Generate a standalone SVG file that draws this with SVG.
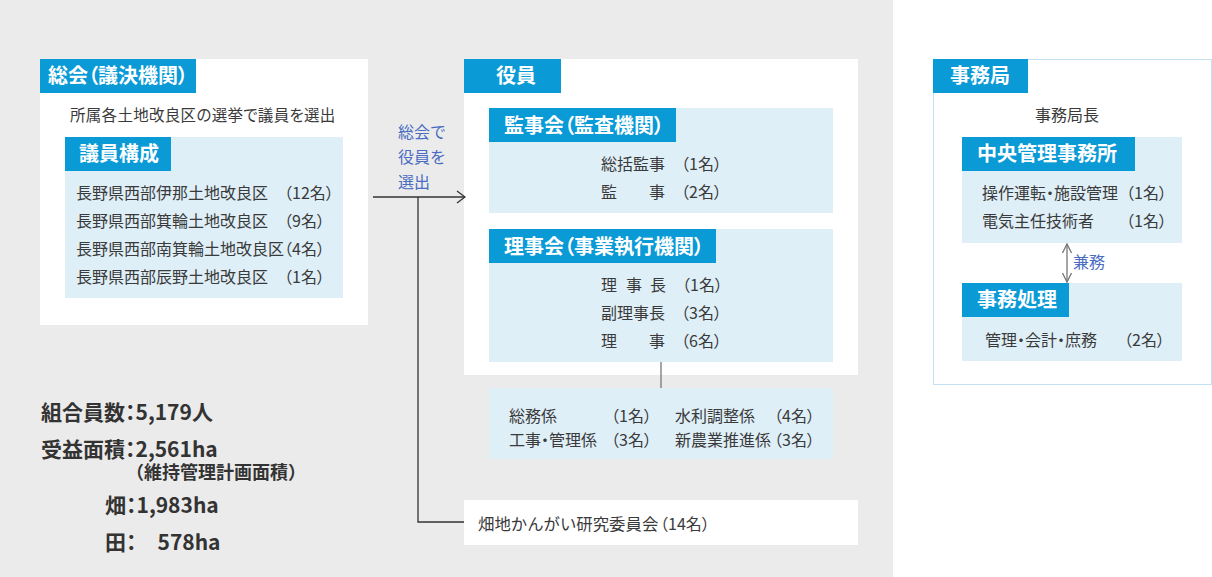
<svg xmlns="http://www.w3.org/2000/svg" width="1212" height="577" viewBox="0 0 1212 577">
<style>
text{font-family:"Noto Sans CJK JP","Noto Sans",sans-serif;fill:#3a3a3a;font-size:16px}
.p{font-feature-settings:"palt"}
.hd{fill:#0a9ad6}
.lt{fill:#dfeff8}
.wh{fill:#ffffff}
.ht{fill:#ffffff;font-size:20px;font-weight:bold}
.bl{fill:#4a6cc2}
.st{font-size:21px;font-weight:bold;fill:#333333}
.sub{font-size:18px;font-weight:bold;fill:#333333}
.ln{stroke:#333333;stroke-width:1.3;fill:none}
.gl{stroke:#777777;stroke-width:1.3;fill:none}
</style>
<defs>
<marker id="ah" viewBox="0 0 10 14" refX="9" refY="7" markerWidth="10" markerHeight="14" markerUnits="userSpaceOnUse" orient="auto">
<path d="M1,1 L9,7 L1,13" fill="none" stroke="#333333" stroke-width="1.3"/>
</marker>
<marker id="ag" viewBox="0 0 12 10" refX="10" refY="5" markerWidth="12" markerHeight="10" markerUnits="userSpaceOnUse" orient="auto-start-reverse">
<path d="M1,0.5 L10,5 L1,9.5" fill="none" stroke="#777777" stroke-width="1.3"/>
</marker>
</defs>
<rect x="0" y="0" width="1212" height="577" fill="#ffffff"/>
<rect x="0" y="0" width="893" height="577" fill="#ebebeb"/>

<g id="soukai">
<rect class="wh" x="40" y="59" width="328" height="266"/>
<rect class="hd" x="40" y="59" width="156" height="34"/>
<text class="ht p" x="48" y="83">総会（議決機関）</text>
<text x="70" y="121" class="p" style="font-size:15.5px;letter-spacing:0.3px">所属各土地改良区の選挙で議員を選出</text>
<rect class="lt" x="65" y="137" width="278" height="161"/>
<rect class="hd" x="65" y="137" width="106" height="34"/>
<text class="ht" x="79" y="161">議員構成</text>
<text class="p" x="76" y="199">長野県西部伊那土地改良区　（12名）</text>
<text class="p" x="76" y="227">長野県西部箕輪土地改良区　（9名）</text>
<text class="p" x="76" y="255">長野県西部南箕輪土地改良区（4名）</text>
<text class="p" x="76" y="283">長野県西部辰野土地改良区　（1名）</text>
</g>

<g id="yakuin">
<rect class="wh" x="464" y="59" width="394" height="316"/>
<rect class="hd" x="464" y="59" width="97" height="34"/>
<text class="ht" x="496" y="83">役員</text>
</g>

<g id="kanjikai">
<rect class="lt" x="489" y="108" width="344" height="105"/>
<rect class="hd" x="489" y="108" width="187" height="34"/>
<text class="ht p" x="504" y="133">監事会（監査機関）</text>
<text class="p" x="601" y="170">総括監事　（1名）</text>
<text class="p" x="601" y="198">監　　事　（2名）</text>
</g>

<g id="rijikai">
<rect class="lt" x="489" y="229" width="344" height="133"/>
<rect class="hd" x="489" y="229" width="227" height="34"/>
<text class="ht p" x="504" y="254">理事会（事業執行機関）</text>
<text class="p" x="601 626 650" y="291">理事長　（1名）</text>
<text class="p" x="601" y="319">副理事長　（3名）</text>
<text class="p" x="601" y="347">理　　事　（6名）</text>
</g>

<g id="kakari">
<rect class="lt" x="489" y="388" width="344" height="71"/>
<text x="509" y="422">総務係</text>
<text class="p" x="611" y="422">（1名）</text>
<text x="675" y="422">水利調整係</text>
<text class="p" x="774" y="422">（4名）</text>
<text class="p" x="509" y="446">工事・管理係</text>
<text class="p" x="611" y="446">（3名）</text>
<text x="675" y="446">新農業推進係</text>
<text class="p" x="774" y="446">（3名）</text>
</g>

<g id="hatachi">
<rect class="wh" x="464" y="500" width="394" height="45"/>
<text x="478" y="530" style="font-size:16.4px">畑地かんがい研究委員会</text>
<text class="p" x="660" y="530">（14名）</text>
</g>

<g id="jimukyoku">
<rect x="933.5" y="59.5" width="278" height="325" fill="#ffffff" stroke="#c4e2f2" stroke-width="1"/>
<rect class="hd" x="933" y="59" width="95" height="34"/>
<text class="ht" x="950" y="83">事務局</text>
<text x="1035" y="121">事務局長</text>
</g>

<g id="chuou">
<rect class="lt" x="962" y="137" width="220" height="106"/>
<rect class="hd" x="962" y="137" width="173" height="34"/>
<text class="ht" x="977" y="161">中央管理事務所</text>
<text class="p" x="982" y="199">操作運転・施設管理</text>
<text class="p" x="1126" y="199">（1名）</text>
<text x="982" y="227">電気主任技術者</text>
<text class="p" x="1126" y="227">（1名）</text>
</g>

<g id="jimushori">
<rect class="lt" x="962" y="283" width="220" height="78"/>
<rect class="hd" x="962" y="283" width="107" height="34"/>
<text class="ht" x="977" y="307">事務処理</text>
<text class="p" x="985" y="346">管理・会計・庶務</text>
<text class="p" x="1124" y="346">（2名）</text>
</g>

<g id="stats">
<text class="st p" x="41" y="420">組合員数：5,179人</text>
<text class="st p" x="41" y="457">受益面積：2,561ha</text>
<text class="sub" x="126" y="479">（維持管理計画面積）</text>
<text class="st p" x="105" y="513">畑：1,983ha</text>
<text class="st p" x="105" y="550">田：　578ha</text>
</g>

<g id="connectors">
<line class="ln" x1="373" y1="197" x2="465" y2="197" marker-end="url(#ah)"/>
<polyline class="ln" points="418,197 418,522 464,522"/>
<line class="gl" x1="661" y1="362" x2="661" y2="388"/>
<line class="gl" x1="1067" y1="244" x2="1067" y2="282" marker-start="url(#ag)" marker-end="url(#ag)"/>
<text class="bl" x="398" y="138">総会で</text>
<text class="bl" x="398" y="163">役員を</text>
<text class="bl" x="398" y="188">選出</text>
<text class="bl" x="1073" y="268">兼務</text>
</g>
</svg>
